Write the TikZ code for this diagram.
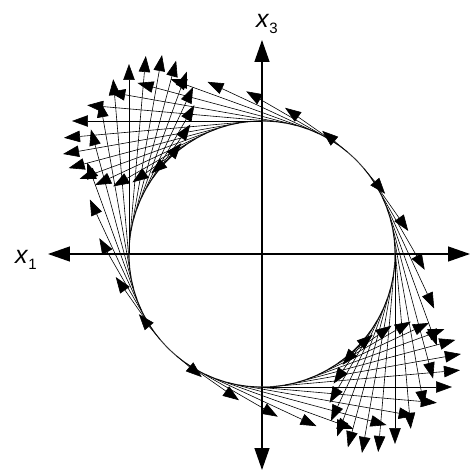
\documentclass[tikz,border=0pt]{standalone}
\usepackage{fontspec}
\setmainfont{Liberation Sans}
\usetikzlibrary{arrows.meta,calc}

\newcommand{\axname}[1]{\textit{x}\raisebox{-0.45ex}{\fontsize{15}{15}\selectfont #1}}

\begin{document}
\begin{tikzpicture}[x=1pt, y=1pt,
  axisline/.style={line width=1.3pt, {Triangle[length=22pt,width=15pt]}-{Triangle[length=22pt,width=15pt]}},
  vec/.style={line width=0.6pt, -{Triangle[length=16pt,width=11.5pt]}},
  lbl/.style={font=\fontsize{25}{27}\selectfont, inner sep=0pt}
]
\useasboundingbox (-262,-220) rectangle (209,254);
% axes
\coordinate (o) at (0,0);
\coordinate (xl) at (-214,0);
\coordinate (xr) at (208,0);
\coordinate (zt) at (0,214);
\coordinate (zb) at (0,-216);
\draw[axisline] (xr) -- (xl);
\draw[axisline] (zb) -- (zt);
\node[lbl] (x1) at (-236,-6) {\axname{1}};
\node[lbl] (x3) at (5,230) {\axname{3}};
% circle
\draw[line width=1pt, black!80] (o) circle (133);
% displacement vectors, one every 5 degrees
\foreach \a in {0,5,...,355}{
  \pgfmathsetmacro\ux{190*cos(2*\a)*sin(\a)}
  \pgfmathsetmacro\uy{-190*cos(2*\a)*cos(\a)}
  \pgfmathparse{abs(cos(2*\a))>0.01 ? 1 : 0}
  \ifnum\pgfmathresult=1
    \coordinate (t\a) at (\a:133);
    \coordinate (h\a) at ($(t\a)+(\ux,\uy)$);
    \draw[vec] (t\a) -- (h\a);
  \fi
}
\end{tikzpicture}
\end{document}
